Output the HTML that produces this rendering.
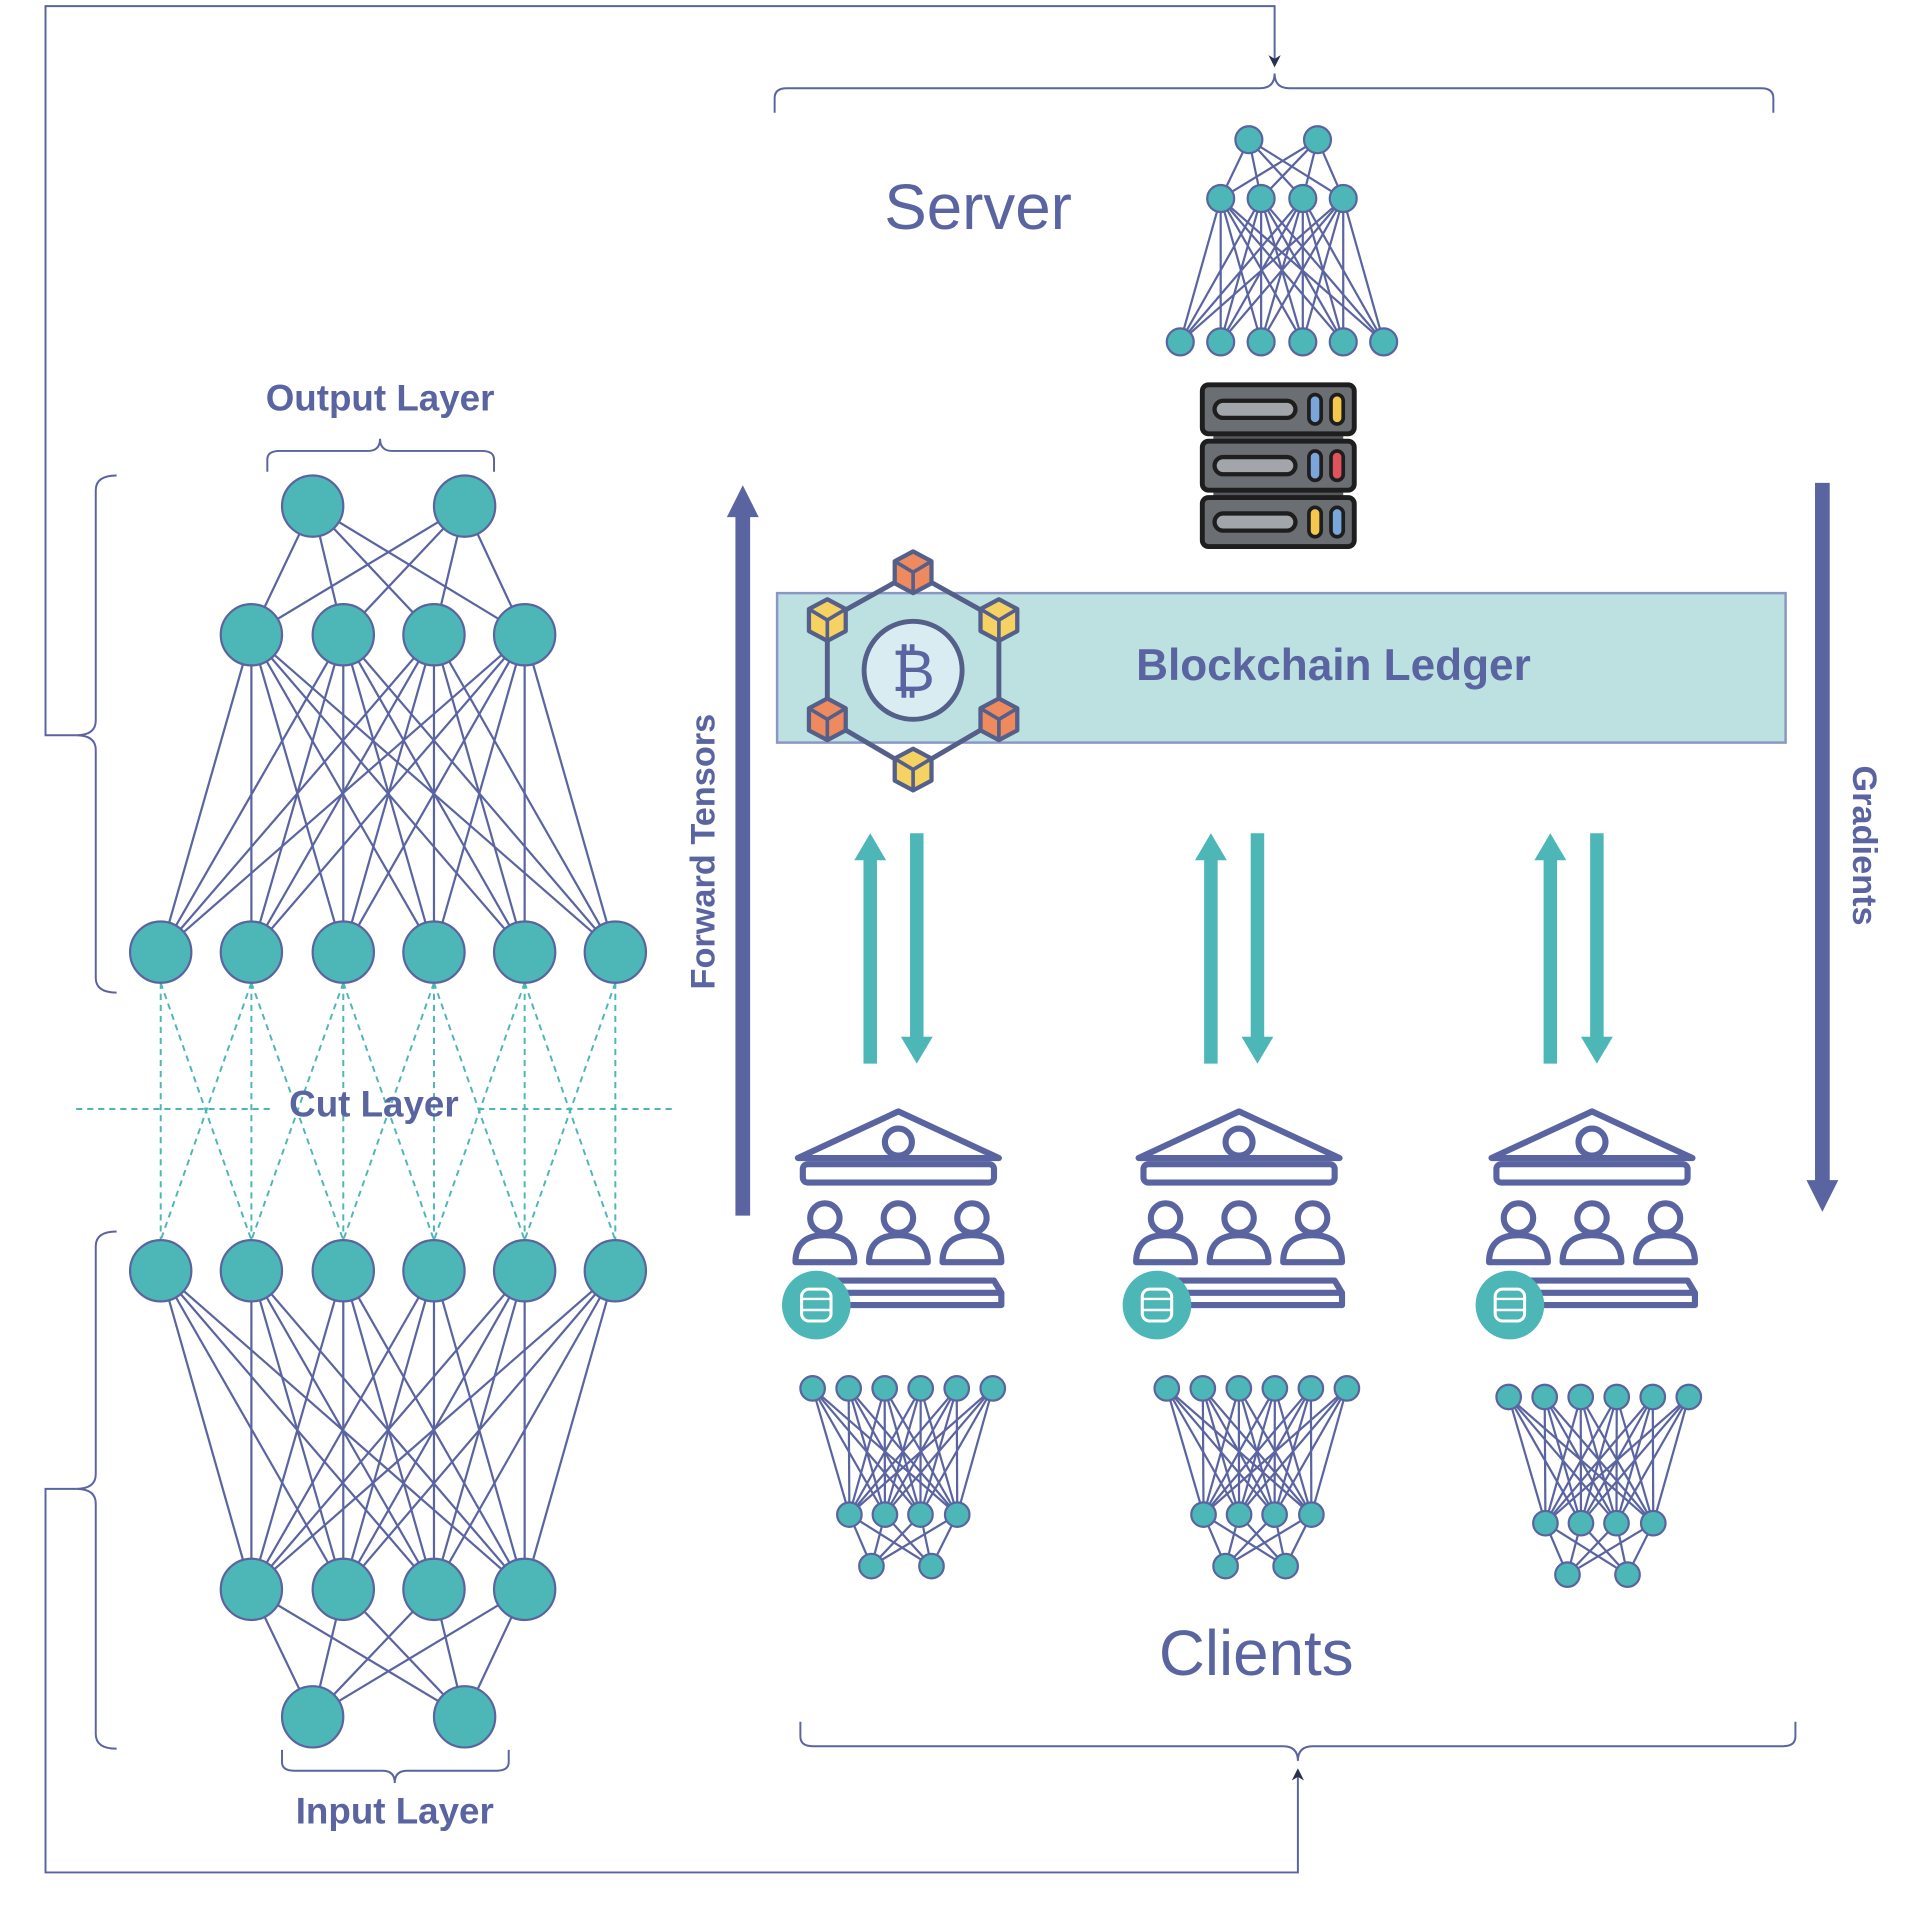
<!DOCTYPE html>
<html><head><meta charset="utf-8">
<style>
html,body{margin:0;padding:0;background:#fff;}
svg{display:block;}
text{font-family:"Liberation Sans",Arial,sans-serif;fill:#5a64a0;}
</style></head>
<body>
<svg id="s" xmlns="http://www.w3.org/2000/svg" width="1912" height="1919" viewBox="0 0 1560 1566">
<defs>
<marker id="ah" markerWidth="10" markerHeight="10" refX="5" refY="5" orient="auto" markerUnits="userSpaceOnUse">
<path d="M0,0 L10,5 L0,10 L3,5 Z" fill="#2a3050"/></marker>
</defs>
<g id="lines" stroke="#5a64a0" stroke-width="1.8" fill="none"></g>
<g id="dash" stroke="#4db6b6" stroke-width="1.6" stroke-dasharray="5,4" fill="none">
<line x1="62" y1="905" x2="220" y2="905"/><line x1="390" y1="905" x2="550" y2="905"/>
</g>
<g id="nodes" fill="#4db6b6" stroke="#5a64a0" stroke-width="1.8"></g>

<g stroke="#5a64a0" stroke-width="1.6" fill="none">
<path d="M62,600 H37 V5 H1040 V50" marker-end="url(#ah)"/>
<path d="M62,1215 H37 V1528 H1059 V1448" marker-end="url(#ah)"/>
<path d="M95,388 Q78,388 78,400 V588 Q78,600 62,600 Q78,600 78,612 V798 Q78,810 95,810"/>
<path d="M95,1005 Q78,1005 78,1017 V1203 Q78,1215 62,1215 Q78,1215 78,1227 V1415 Q78,1427 95,1427"/>
<path d="M218,385 V375 Q218,368 228,368 H300 Q310,368 310,358 Q310,368 320,368 H393 Q403,368 403,375 V385"/>
<path d="M230,1428 V1438 Q230,1445 240,1445 H312 Q322,1445 322,1455 Q322,1445 332,1445 H405 Q415,1445 415,1438 V1428"/>
<path d="M632,92 V80 Q632,72 642,72 H1028 Q1040,72 1040,60 Q1040,72 1052,72 H1437 Q1447,72 1447,80 V92"/>
<path d="M653,1405 V1417 Q653,1425 663,1425 H1047 Q1059,1425 1059,1437 Q1059,1425 1071,1425 H1455 Q1465,1425 1465,1417 V1405"/>
</g>

<text x="310" y="335" font-size="30" font-weight="bold" text-anchor="middle">Output Layer</text>
<text x="322" y="1488" font-size="30" font-weight="bold" text-anchor="middle">Input Layer</text>
<text x="305" y="911" font-size="30" font-weight="bold" text-anchor="middle">Cut Layer</text>
<text x="798" y="187" font-size="52" text-anchor="middle">Server</text>
<text x="1025" y="1367" font-size="52" text-anchor="middle">Clients</text>

<rect x="634" y="484" width="823" height="122" fill="#bde0e0" stroke="#8a96c4" stroke-width="2"/>
<text x="1088" y="555" font-size="36" font-weight="bold" text-anchor="middle">Blockchain Ledger</text>

<line x1="606" y1="992" x2="606" y2="420" stroke="#5a64a0" stroke-width="12"/>
<polygon points="593,422 619,422 606,396" fill="#5a64a0"/>
<text transform="translate(583,695) rotate(-90)" font-size="28" font-weight="bold" text-anchor="middle">Forward Tensors</text>
<line x1="1487" y1="394" x2="1487" y2="965" stroke="#5a64a0" stroke-width="12"/>
<polygon points="1474,963 1500,963 1487,989" fill="#5a64a0"/>
<text transform="translate(1512,690) rotate(90)" font-size="28" font-weight="bold" text-anchor="middle">Gradients</text>

<g id="icons"></g>
</svg>
<script>
var NS="http://www.w3.org/2000/svg";
function el(p,t,a){var e=document.createElementNS(NS,t);for(var k in a)e.setAttribute(k,a[k]);(typeof p==="string"?document.getElementById(p):p).appendChild(e);return e;}
function layer(xs,y){return xs.map(function(x){return [x,y];});}
function connect(A,B){A.forEach(function(a){B.forEach(function(b){el("lines","line",{x1:a[0],y1:a[1],x2:b[0],y2:b[1]});});});}
function nodes(A,r){A.forEach(function(a){el("nodes","circle",{cx:a[0],cy:a[1],r:r});});}
var six=[131,205,280,354,428,502],four=[205,280,354,428],two=[255,379];
var L1=layer(two,413),L2=layer(four,518),L3=layer(six,777),L4=layer(six,1037),L5=layer(four,1297),L6=layer(two,1401);
connect(L1,L2);connect(L2,L3);connect(L4,L5);connect(L5,L6);
for(var i=0;i<6;i++){for(var d=-1;d<=1;d++){var j=i+d;if(j<0||j>5)continue;el("dash","line",{x1:six[i],y1:802,x2:six[j],y2:1012});}}
[L1,L2,L3,L4,L5,L6].forEach(function(L){nodes(L,25);});
var S1=layer([1019,1075],114),S2=layer([996,1029,1063,1096],162),S3=layer([963,996,1029,1063,1096,1129],279);
connect(S1,S2);connect(S2,S3);[S1,S2,S3].forEach(function(L){nodes(L,11);});
function cnet(x0,y0){var t=[],f=[],w=[];for(var k=0;k<6;k++)t.push(x0+k*29.4);
 f=[x0+30,x0+59,x0+88,x0+118];w=[x0+48,x0+97];
 var A=layer(t,y0),B=layer(f,y0+103),C=layer(w,y0+145);connect(A,B);connect(B,C);[A,B,C].forEach(function(L){nodes(L,10);});}
cnet(663,1133);cnet(952,1133);cnet(1231,1140);
var g=document.getElementById("icons");
function tarrow(x,y1,y2){var up=y2<y1;el(g,"line",{x1:x,y1:y1,x2:x,y2:up?y2+20:y2-20,stroke:"#4db6b6","stroke-width":11});
 el(g,"polygon",{points:up?(x-13)+","+(y2+22)+" "+(x+13)+","+(y2+22)+" "+x+","+y2:(x-13)+","+(y2-22)+" "+(x+13)+","+(y2-22)+" "+x+","+y2,fill:"#4db6b6"});}
[[710,748],[988,1026],[1265,1303]].forEach(function(p){tarrow(p[0],868,680);tarrow(p[1],680,868);});
function srv(y,c1,c2){el(g,"rect",{x:981,y:y,width:124,height:40,rx:5,fill:"#6b6e72",stroke:"#1e1e1e","stroke-width":4});
 el(g,"rect",{x:991,y:y+13,width:66,height:14,rx:7,fill:"#a2a5aa",stroke:"#1e1e1e","stroke-width":3.5});
 el(g,"rect",{x:1068,y:y+8,width:10,height:24,rx:5,fill:c1,stroke:"#1e1e1e","stroke-width":3});
 el(g,"rect",{x:1086,y:y+8,width:10,height:24,rx:5,fill:c2,stroke:"#1e1e1e","stroke-width":3});}
el(g,"rect",{x:990,y:340,width:106,height:100,fill:"#55585c"});
srv(314,"#7aa6d9","#f4c84c");srv(360,"#7aa6d9","#e0525c");srv(406,"#f4c84c","#7aa6d9");
var cx=745,cy=547,st="#55608a";
el(g,"polygon",{points:"745,467 815,506 815,587 745,628 675,587 675,506",fill:"none",stroke:st,"stroke-width":4});
el(g,"circle",{cx:cx,cy:cy,r:40,fill:"#d8ecf2",stroke:st,"stroke-width":4});
el(g,"text",{x:cx,y:cy+17,"font-size":48,"text-anchor":"middle",fill:st}).textContent="\u20BF";
[[745,467,"#ef8a5f"],[675,506,"#f6d262"],[815,506,"#f6d262"],[675,587,"#ef8a5f"],[815,587,"#ef8a5f"],[745,628,"#f6d262"]].forEach(function(c){
 var x=c[0],y=c[1];
 el(g,"polygon",{points:(x)+","+(y-17)+" "+(x+15)+","+(y-9)+" "+(x+15)+","+(y+9)+" "+x+","+(y+17)+" "+(x-15)+","+(y+9)+" "+(x-15)+","+(y-9),fill:c[2],stroke:st,"stroke-width":3.5,"stroke-linejoin":"round"});
 el(g,"polyline",{points:(x-15)+","+(y-9)+" "+x+","+y+" "+(x+15)+","+(y-9),fill:"none",stroke:st,"stroke-width":3});
 el(g,"line",{x1:x,y1:y,x2:x,y2:y+17,stroke:st,"stroke-width":3});});
function client(cx){var c="#5a64a0",sw=5;
 el(g,"path",{d:"M"+(cx-82)+",945 L"+cx+",907 L"+(cx+82)+",945 Z",fill:"none",stroke:c,"stroke-width":sw,"stroke-linejoin":"round"});
 el(g,"rect",{x:cx-78,y:950,width:156,height:15,rx:4,fill:"none",stroke:c,"stroke-width":sw});
 el(g,"circle",{cx:cx,cy:932,r:11,fill:"none",stroke:c,"stroke-width":sw});
 [-60,0,60].forEach(function(d){var x=cx+d;
  el(g,"circle",{cx:x,cy:994,r:12,fill:"none",stroke:c,"stroke-width":sw});
  el(g,"path",{d:"M"+(x-24)+",1030 Q"+(x-24)+",1008 "+x+",1008 Q"+(x+24)+",1008 "+(x+24)+",1030 Z",fill:"none",stroke:c,"stroke-width":sw,"stroke-linejoin":"round"});});
 el(g,"path",{d:"M"+(cx-75)+",1045 H"+(cx+78)+" L"+(cx+84)+",1055 V1065 H"+(cx-75)+" Z M"+(cx-75)+",1055 H"+(cx+84),fill:"none",stroke:c,"stroke-width":sw,"stroke-linejoin":"round"});
 el(g,"circle",{cx:cx-67,cy:1065,r:28,fill:"#4db6b6"});
 var dx=cx-67;
 el(g,"rect",{x:dx-12,y:1052,width:24,height:26,rx:6,fill:"none",stroke:"#fff","stroke-width":2.5});
 el(g,"line",{x1:dx-12,y1:1060,x2:dx+12,y2:1060,stroke:"#fff","stroke-width":2});
 el(g,"line",{x1:dx-12,y1:1069,x2:dx+12,y2:1069,stroke:"#fff","stroke-width":2});}
client(733);client(1011);client(1299);
</script>
</body></html>
